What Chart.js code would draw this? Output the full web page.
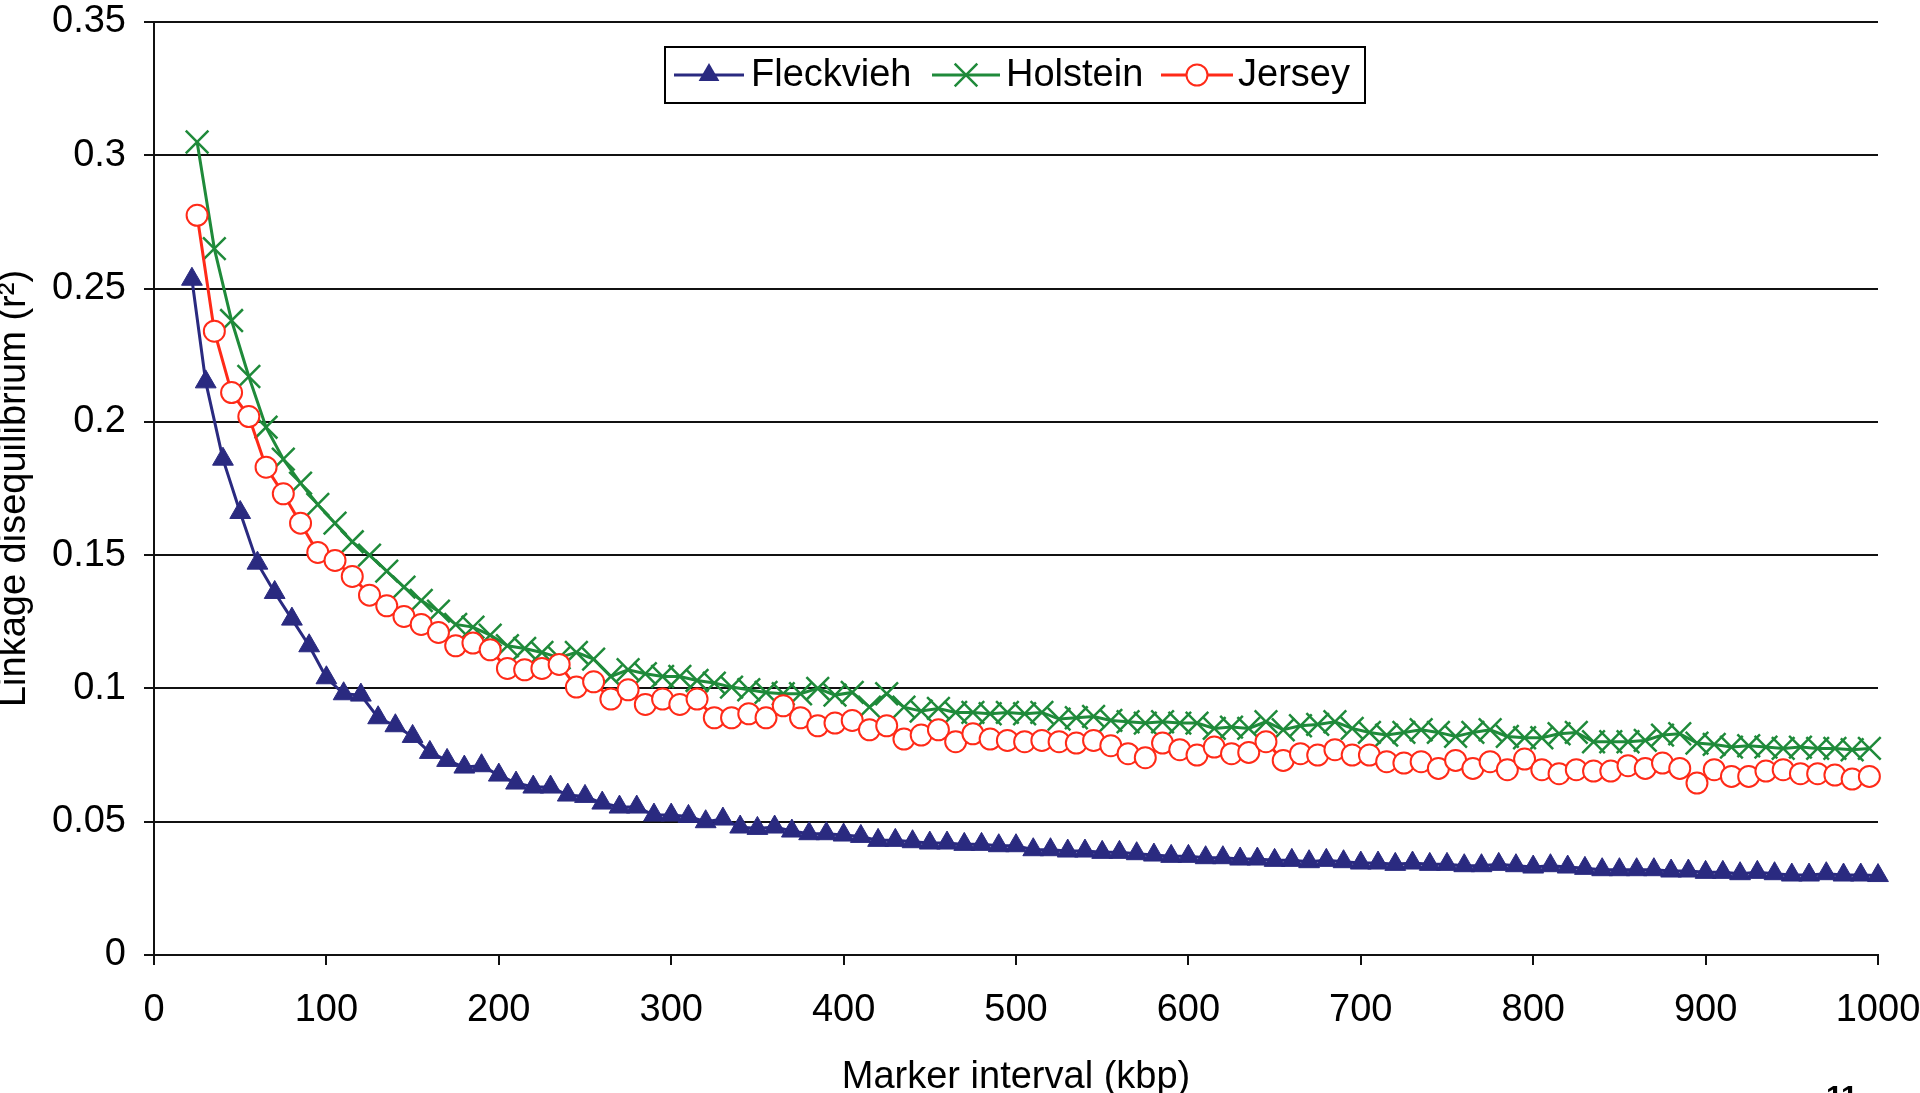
<!DOCTYPE html>
<html>
<head>
<meta charset="utf-8">
<title>Linkage disequilibrium by marker interval</title>
<script src="https://cdn.jsdelivr.net/npm/chart.js@4.4.1/dist/chart.umd.min.js"></script>
<style>
    html, body { margin: 0; padding: 0; background: #fff; overflow: hidden; }
    canvas { display: block; }
</style>
</head>
<body>
<canvas id="ld-chart" width="1920" height="1093"></canvas>
<script>
// marker intervals (kbp)
const fleckDist = [22, 30, 40, 50, 60, 70, 80, 90, 100, 110, 120, 130, 140, 150, 160, 170, 180, 190, 200,
    210, 220, 230, 240, 250, 260, 270, 280, 290, 300, 310, 320, 330, 340, 350, 360, 370, 380, 390, 400,
    410, 420, 430, 440, 450, 460, 470, 480, 490, 500, 510, 520, 530, 540, 550, 560, 570, 580, 590, 600,
    610, 620, 630, 640, 650, 660, 670, 680, 690, 700, 710, 720, 730, 740, 750, 760, 770, 780, 790, 800,
    810, 820, 830, 840, 850, 860, 870, 880, 890, 900, 910, 920, 930, 940, 950, 960, 970, 980, 990, 1000];
const otherDist = [25, 35, 45, 55, 65, 75, 85, 95, 105, 115, 125, 135, 145, 155, 165, 175, 185, 195,
    205, 215, 225, 235, 245, 255, 265, 275, 285, 295, 305, 315, 325, 335, 345, 355, 365, 375, 385, 395,
    405, 415, 425, 435, 445, 455, 465, 475, 485, 495, 505, 515, 525, 535, 545, 555, 565, 575, 585, 595,
    605, 615, 625, 635, 645, 655, 665, 675, 685, 695, 705, 715, 725, 735, 745, 755, 765, 775, 785, 795,
    805, 815, 825, 835, 845, 855, 865, 875, 885, 895, 905, 915, 925, 935, 945, 955, 965, 975, 985, 995];

// r2 values
const fleckvieh = [0.2535, 0.215, 0.186, 0.166, 0.147, 0.136, 0.126, 0.116, 0.104, 0.098,
    0.0975, 0.089, 0.086, 0.082, 0.076, 0.073, 0.0705, 0.071, 0.0675, 0.0645,
    0.063, 0.063, 0.060, 0.0595, 0.057, 0.0555, 0.0555, 0.0525, 0.0525, 0.052,
    0.050, 0.051, 0.048, 0.0475, 0.048, 0.0465, 0.0455, 0.0455, 0.045, 0.0445,
    0.043, 0.043, 0.0425, 0.042, 0.042, 0.0415, 0.0415, 0.041, 0.041, 0.0395,
    0.0395, 0.039, 0.039, 0.0385, 0.0385, 0.038, 0.0375, 0.037, 0.037, 0.0365,
    0.0365, 0.036, 0.036, 0.0355, 0.0355, 0.035, 0.0355, 0.035, 0.0345, 0.0345,
    0.034, 0.0345, 0.034, 0.034, 0.0335, 0.0335, 0.034, 0.0335, 0.033, 0.0335,
    0.033, 0.0325, 0.032, 0.032, 0.032, 0.032, 0.0315, 0.0315, 0.031, 0.031,
    0.0305, 0.031, 0.0305, 0.030, 0.030, 0.0305, 0.030, 0.030, 0.0298];
const holstein = [0.305, 0.265, 0.238, 0.217, 0.198, 0.186, 0.177, 0.169, 0.162, 0.155,
    0.150, 0.144, 0.138, 0.133, 0.129, 0.124, 0.123, 0.120, 0.116, 0.115,
    0.1135, 0.1115, 0.1135, 0.111, 0.1045, 0.107, 0.1055, 0.1045, 0.1045, 0.103,
    0.102, 0.1005, 0.0995, 0.0985, 0.098, 0.098, 0.100, 0.0975, 0.0985, 0.093,
    0.098, 0.093, 0.0915, 0.0925, 0.091, 0.091, 0.0905, 0.091, 0.0905, 0.091,
    0.0885, 0.089, 0.0895, 0.088, 0.0875, 0.087, 0.0875, 0.087, 0.087, 0.085,
    0.0855, 0.085, 0.0875, 0.0845, 0.086, 0.0865, 0.0875, 0.085, 0.0835, 0.0825,
    0.0835, 0.0845, 0.0835, 0.082, 0.0835, 0.0845, 0.082, 0.0815, 0.0815, 0.083,
    0.0835, 0.080, 0.080, 0.080, 0.0805, 0.0825, 0.083, 0.0795, 0.079, 0.078,
    0.0785, 0.078, 0.0775, 0.078, 0.0775, 0.0775, 0.077, 0.0775];
const jersey = [0.2775, 0.234, 0.211, 0.202, 0.183, 0.173, 0.162, 0.151, 0.148, 0.142,
    0.135, 0.131, 0.127, 0.124, 0.121, 0.116, 0.117, 0.1145, 0.1075, 0.107,
    0.1075, 0.109, 0.1005, 0.1025, 0.096, 0.0995, 0.094, 0.096, 0.094, 0.096,
    0.089, 0.089, 0.0905, 0.089, 0.0935, 0.089, 0.086, 0.087, 0.088, 0.0845,
    0.086, 0.081, 0.0825, 0.0845, 0.080, 0.083, 0.081, 0.0805, 0.080, 0.0805,
    0.080, 0.0795, 0.0805, 0.0785, 0.0755, 0.074, 0.0795, 0.077, 0.075, 0.078,
    0.0755, 0.076, 0.080, 0.073, 0.0755, 0.075, 0.077, 0.075, 0.075, 0.0725,
    0.072, 0.0725, 0.070, 0.073, 0.070, 0.0725, 0.0695, 0.0735, 0.0695, 0.068,
    0.0695, 0.069, 0.069, 0.071, 0.070, 0.072, 0.070, 0.0645, 0.0695, 0.067,
    0.067, 0.069, 0.0695, 0.068, 0.068, 0.0675, 0.066, 0.067];

const xTicks = [0, 100, 200, 300, 400, 500, 600, 700, 800, 900, 1000];
const yTicks = [0, 0.05, 0.1, 0.15, 0.2, 0.25, 0.3, 0.35];

const xTitle = 'Marker interval (kbp)';
const yTitle = 'Linkage disequilibrium (r²)';

const NAVY = '#2a2a80';
const GREEN = '#1f8a3a';
const RED = '#ff2a18';
const FONT = 'Arial, "Liberation Sans", Helvetica, sans-serif';

function toPoints(xs, ys) {
    return xs.map((x, i) => ({ x: x, y: ys[i] }));
}

// legend, axis titles and page number drawn on top
const overlayPlugin = {
    id: 'overlay',
    afterDraw(chart) {
        const ctx = chart.ctx;
        const area = chart.chartArea;
        ctx.save();
        ctx.fillStyle = '#000';
        ctx.font = '38px ' + FONT;

        // x axis title
        ctx.textAlign = 'center';
        ctx.textBaseline = 'alphabetic';
        ctx.fillText(xTitle, (area.left + area.right) / 2, 1088);

        // y axis title
        ctx.save();
        ctx.translate(25, (area.top + area.bottom) / 2);
        ctx.rotate(-Math.PI / 2);
        ctx.fillText(yTitle, 0, 0);
        ctx.restore();

        // legend box
        ctx.fillStyle = '#fff';
        ctx.fillRect(665, 47, 700, 56);
        ctx.strokeStyle = '#000';
        ctx.lineWidth = 2;
        ctx.strokeRect(665, 47, 700, 56);

        const ly = 75;
        const entries = [
            { label: 'Fleckvieh', color: NAVY, x0: 674, x1: 744, tx: 751, mark: 'triangle' },
            { label: 'Holstein', color: GREEN, x0: 932, x1: 1000, tx: 1006, mark: 'cross' },
            { label: 'Jersey', color: RED, x0: 1161, x1: 1233, tx: 1238, mark: 'circle' }
        ];
        entries.forEach(e => {
            ctx.strokeStyle = e.color;
            ctx.lineWidth = 3;
            ctx.beginPath();
            ctx.moveTo(e.x0, ly);
            ctx.lineTo(e.x1, ly);
            ctx.stroke();
            const cx = (e.x0 + e.x1) / 2;
            if (e.mark === 'triangle') {
                const r = 12;
                ctx.fillStyle = e.color;
                ctx.beginPath();
                ctx.moveTo(cx, ly - r);
                ctx.lineTo(cx + r * 0.866, ly + r / 2);
                ctx.lineTo(cx - r * 0.866, ly + r / 2);
                ctx.closePath();
                ctx.fill();
            } else if (e.mark === 'cross') {
                const d = 11.3;
                ctx.lineWidth = 2.5;
                ctx.beginPath();
                ctx.moveTo(cx - d, ly - d);
                ctx.lineTo(cx + d, ly + d);
                ctx.moveTo(cx - d, ly + d);
                ctx.lineTo(cx + d, ly - d);
                ctx.stroke();
            } else {
                ctx.fillStyle = '#fff';
                ctx.lineWidth = 2;
                ctx.beginPath();
                ctx.arc(cx, ly, 10.5, 0, Math.PI * 2);
                ctx.fill();
                ctx.stroke();
            }
            ctx.fillStyle = '#000';
            ctx.textAlign = 'left';
            ctx.textBaseline = 'middle';
            ctx.fillText(e.label, e.tx, ly + 1);
        });

        // page number, cut off at the bottom edge
        ctx.font = 'bold 30px ' + FONT;
        ctx.textAlign = 'left';
        ctx.textBaseline = 'alphabetic';
        ctx.fillText('11', 1826, 1106);
        ctx.restore();
    }
};

const ctx = document.getElementById('ld-chart').getContext('2d');
new Chart(ctx, {
    type: 'line',
    data: {
        datasets: [
            {
                label: 'Jersey',
                data: toPoints(otherDist, jersey),
                borderColor: RED,
                borderWidth: 3,
                pointStyle: 'circle',
                pointRadius: 10.5,
                pointBackgroundColor: '#fff',
                pointBorderColor: RED,
                pointBorderWidth: 2,
                order: 0,
                clip: false
            },
            {
                label: 'Holstein',
                data: toPoints(otherDist, holstein),
                borderColor: GREEN,
                borderWidth: 3,
                pointStyle: 'crossRot',
                pointRadius: 16,
                pointBorderColor: GREEN,
                pointBorderWidth: 2.5,
                order: 1,
                clip: false
            },
            {
                label: 'Fleckvieh',
                data: toPoints(fleckDist, fleckvieh),
                borderColor: NAVY,
                borderWidth: 3,
                pointStyle: 'triangle',
                pointRadius: 12,
                pointBackgroundColor: NAVY,
                pointBorderColor: NAVY,
                pointBorderWidth: 1,
                order: 2,
                clip: false
            }
        ]
    },
    options: {
        responsive: false,
        animation: false,
        devicePixelRatio: 1,
        layout: { padding: { left: 0, right: 42, top: 22, bottom: 0 } },
        elements: { line: { tension: 0 } },
        plugins: {
            legend: { display: false },
            tooltip: { enabled: false }
        },
        scales: {
            x: {
                type: 'linear',
                min: 0,
                max: 1000,
                afterBuildTicks: scale => { scale.ticks = xTicks.map(v => ({ value: v })); },
                ticks: {
                    color: '#000',
                    font: { family: FONT, size: 38 },
                    padding: 23,
                    maxRotation: 0,
                    autoSkip: false,
                    callback: v => String(v)
                },
                grid: {
                    drawOnChartArea: false,
                    drawTicks: true,
                    tickLength: 10,
                    color: '#111',
                    lineWidth: 2
                },
                border: { color: '#111', width: 2 },
                afterFit: scale => {
                    scale.height = 138;
                    scale.paddingLeft = 0;
                    scale.paddingRight = 0;
                }
            },
            y: {
                min: 0,
                max: 0.35,
                afterBuildTicks: scale => { scale.ticks = yTicks.map(v => ({ value: v })); },
                ticks: {
                    color: '#000',
                    font: { family: FONT, size: 38 },
                    padding: 18,
                    callback: v => String(Number(v.toFixed(2)))
                },
                grid: {
                    color: '#111',
                    lineWidth: 2,
                    tickLength: 10
                },
                border: { color: '#111', width: 2 },
                afterFit: scale => {
                    scale.width = 154;
                    scale.paddingTop = 0;
                    scale.paddingBottom = 0;
                }
            }
        }
    },
    plugins: [overlayPlugin]
});
</script>
</body>
</html>
